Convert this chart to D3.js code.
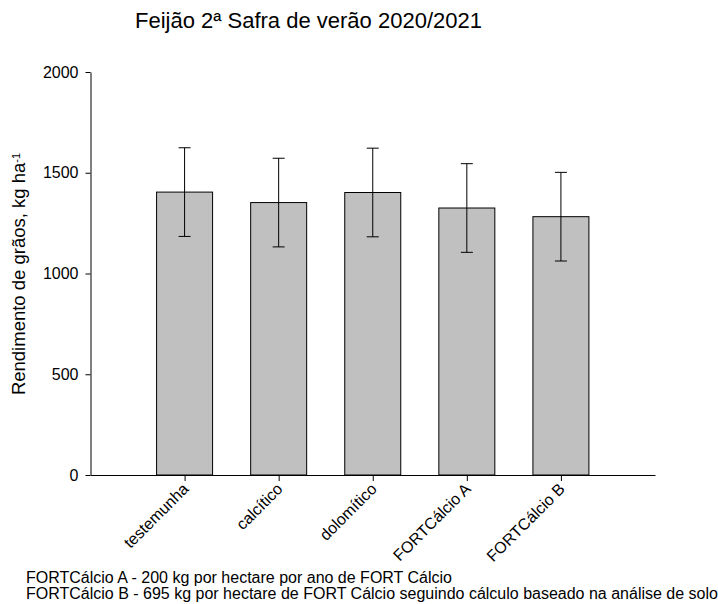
<!DOCTYPE html>
<html>
<head>
<meta charset="utf-8">
<script src="https://cdn.jsdelivr.net/npm/d3@7"></script>
<style>
  body { margin: 0; background: #fff; }
  svg text { font-family: "Liberation Sans", Arial, sans-serif; fill: #000; }
</style>
</head>
<body>
<svg id="chart" width="718" height="604"></svg>
<script>
// treatments and grain yield (kg/ha) with error (sd)
const categories = ["testemunha", "calcítico", "dolomítico", "FORTCálcio A", "FORTCálcio B"];
const yieldMean = [1404, 1352, 1402, 1325, 1282];
const yieldErr = [220, 220, 220, 220, 220];
const yTicks = [0, 500, 1000, 1500, 2000];
const footnotes = [
    "FORTCálcio A - 200 kg por hectare por ano de FORT Cálcio",
    "FORTCálcio B - 695 kg por hectare de FORT Cálcio seguindo cálculo baseado na análise de solo"
];

const svg = d3.select("#chart");

// scales: bars sit on positions 1..5 of a 0..6 axis
const x = d3.scaleLinear().domain([0, categories.length + 1]).range([90.5, 655]);
const y = d3.scaleLinear().domain([0, 2000]).range([475, 72]);
const barW = 56;

// title
svg.append("text")
    .attr("x", 135)
    .attr("y", 28)
    .style("font-size", "22px")
    .text("Feijão 2ª Safra de verão 2020/2021");

// bars
svg.selectAll("rect.bar")
    .data(yieldMean)
    .join("rect")
    .attr("class", "bar")
    .attr("x", (d, i) => x(i + 1) - barW / 2)
    .attr("y", d => y(d))
    .attr("width", barW)
    .attr("height", d => y(0) - y(d))
    .attr("fill", "#c0c0c0")
    .attr("stroke", "#000")
    .attr("stroke-width", 1);

// error bars
const err = svg.append("g").attr("stroke", "#000").attr("stroke-width", 1);
yieldMean.forEach((m, i) => {
    const cx = x(i + 1);
    err.append("line").attr("x1", cx).attr("x2", cx).attr("y1", y(m + yieldErr[i])).attr("y2", y(m - yieldErr[i]));
    err.append("line").attr("x1", cx - 6).attr("x2", cx + 6).attr("y1", y(m + yieldErr[i])).attr("y2", y(m + yieldErr[i]));
    err.append("line").attr("x1", cx - 6).attr("x2", cx + 6).attr("y1", y(m - yieldErr[i])).attr("y2", y(m - yieldErr[i]));
});

// y axis
const yAxis = svg.append("g")
    .attr("transform", "translate(90.5,0)")
    .call(d3.axisLeft(y).tickValues(yTicks).tickSize(5).tickSizeOuter(0).tickPadding(7).tickFormat(d3.format("d")));
yAxis.selectAll("text").style("font-size", "16px").style("font-family", "Liberation Sans, Arial, sans-serif");

// x axis
const xAxis = svg.append("g")
    .attr("transform", "translate(0,475)")
    .call(d3.axisBottom(x).tickValues(d3.range(1, categories.length + 1)).tickSize(6).tickSizeOuter(0).tickFormat(""));
xAxis.selectAll(".tick text").remove();
svg.selectAll(".domain, .tick line").attr("stroke", "#000");

// rotated category labels
svg.selectAll("text.xlab")
    .data(categories)
    .join("text")
    .attr("class", "xlab")
    .attr("text-anchor", "end")
    .attr("transform", (d, i) => `translate(${x(i + 1) + 5},${490}) rotate(-45)`)
    .style("font-size", "16px")
    .text(d => d);

// y axis title
const yt = svg.append("text")
    .attr("transform", "translate(25,274) rotate(-90)")
    .attr("text-anchor", "middle")
    .style("font-size", "18.5px");
yt.append("tspan").text("Rendimento de grãos, kg ha");
yt.append("tspan").attr("dy", "-0.5em").style("font-size", "11px").text("-1");

// footnotes
svg.selectAll("text.note")
    .data(footnotes)
    .join("text")
    .attr("class", "note")
    .attr("x", 26)
    .attr("y", (d, i) => 583 + i * 15.5)
    .style("font-size", "16px")
    .text(d => d);
</script>
</body>
</html>
